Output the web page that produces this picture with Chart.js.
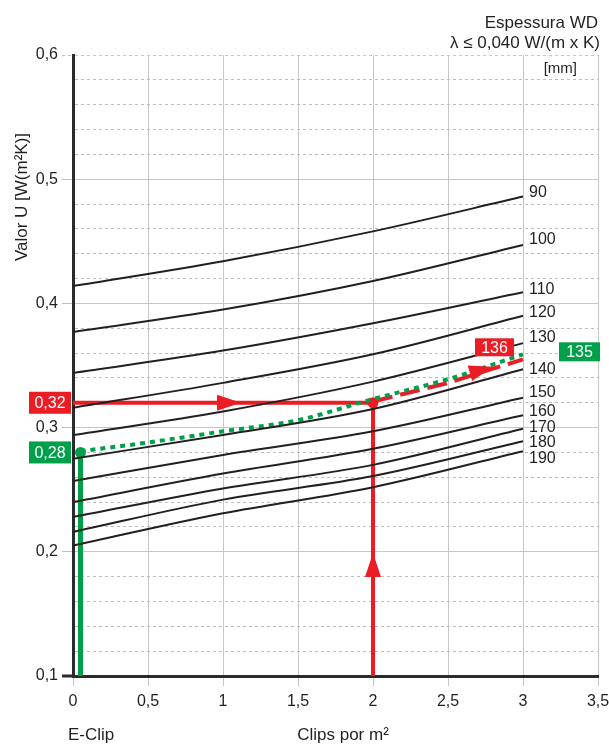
<!DOCTYPE html>
<html>
<head>
<meta charset="utf-8">
<script src="https://cdn.jsdelivr.net/npm/chart.js@4.4.0/dist/chart.umd.min.js"></script>
<style>
    html, body { margin: 0; padding: 0; background: #fff; }
    #grafica { display: block; }
</style>
</head>
<body>
<canvas id="grafica" width="609" height="745"></canvas>
<script>
// Clips por m2 (eixo x) para as curvas de espessura
const clips = [0, 1, 2, 3];
const espessuras = ['90', '100', '110', '120', '130', '140', '150', '160', '170', '180', '190'];

// Valor U [W/(m2K)] por espessura WD
const u90  = [0.414, 0.434, 0.458, 0.486];
const u100 = [0.377, 0.395, 0.418, 0.447];
const u110 = [0.344, 0.362, 0.384, 0.409];
const u120 = [0.316, 0.336, 0.359, 0.390];
const u130 = [0.294, 0.313, 0.337, 0.368];
const u140 = [0.275, 0.294, 0.315, 0.347];
const u150 = [0.257, 0.278, 0.297, 0.324];
const u160 = [0.240, 0.263, 0.283, 0.310];
const u170 = [0.228, 0.251, 0.270, 0.299];
const u180 = [0.216, 0.242, 0.261, 0.289];
const u190 = [0.205, 0.231, 0.252, 0.281];
const curvas = [u90, u100, u110, u120, u130, u140, u150, u160, u170, u180, u190];

// exemplo verde (E-Clip, 135 mm)
const verdeX = [0.05, 0.5, 1, 1.5, 2, 2.5, 3];
const verdeU = [0.281, 0.288, 0.297, 0.306, 0.323, 0.339, 0.359];
const verdeInicio = [0.1, 0.28];

// exemplo vermelho (2 clips/m2, 136 mm)
const vermelhoX = [0, 2, 2];
const vermelhoU = [0.32, 0.32, 0.1];
const tracejadoX = [2, 2.5, 3];
const tracejadoU = [0.321, 0.336, 0.355];

// pontas das setas
const setaX = [1.12, 2, 2.8];
const setaU = [0.32, 0.199, 0.349];

const ticksX = [0, 0.5, 1, 1.5, 2, 2.5, 3, 3.5];
const ticksU = [0.1, 0.2, 0.3, 0.4, 0.5, 0.6];

const VERMELHO = '#ec1c24';
const VERDE = '#00a04a';
const TEXTO = '#231f20';
const FONTE = '"Liberation Sans", Arial, Helvetica, sans-serif';

const virgula = v => String(Math.round(v * 100) / 100).replace('.', ',');
const ehPrincipal = v => Math.abs(v * 10 - Math.round(v * 10)) < 1e-6;

const datasets = curvas.map((u, i) => ({
    label: espessuras[i],
    data: clips.map((x, j) => ({ x: x, y: u[j] })),
    borderColor: '#231f20',
    borderWidth: 2,
    pointRadius: 0,
    cubicInterpolationMode: 'monotone'
}));

datasets.push({
    label: 'verde',
    data: verdeX.map((x, j) => ({ x: x, y: verdeU[j] })),
    borderColor: VERDE,
    borderWidth: 4,
    borderDash: [5, 5],
    pointRadius: 0,
    cubicInterpolationMode: 'monotone'
});
datasets.push({
    label: 'verde-inicio',
    data: verdeInicio.map(u => ({ x: verdeX[0], y: u })),
    borderColor: VERDE,
    backgroundColor: VERDE,
    borderWidth: 5,
    pointRadius: [0, 5.5],
    pointBackgroundColor: VERDE,
    pointBorderWidth: 0
});
datasets.push({
    label: 'vermelho-tracejado',
    data: tracejadoX.map((x, j) => ({ x: x, y: tracejadoU[j] })),
    borderColor: VERMELHO,
    borderWidth: 4,
    borderDash: [20, 8],
    pointRadius: 0
});
datasets.push({
    label: 'vermelho',
    data: vermelhoX.map((x, j) => ({ x: x, y: vermelhoU[j] })),
    borderColor: VERMELHO,
    backgroundColor: VERMELHO,
    borderWidth: 4,
    pointRadius: [0, 5.5, 0],
    pointBackgroundColor: VERMELHO,
    pointBorderWidth: 0
});

function caixa(ctx, texto, x0, y0, w, h, cor) {
    ctx.fillStyle = cor;
    ctx.fillRect(x0, y0, w, h);
    ctx.fillStyle = '#fff';
    ctx.textAlign = 'center';
    ctx.textBaseline = 'middle';
    ctx.fillText(texto, x0 + w / 2, y0 + h / 2 + 1);
}

const anotacoes = {
    id: 'anotacoes',
    afterDatasetsDraw(chart) {
        const ctx = chart.ctx;
        const sx = chart.scales.x;
        const sy = chart.scales.y;
        ctx.save();

        // setas
        const ang0 = Math.atan2(
            sy.getPixelForValue(tracejadoU[2]) - sy.getPixelForValue(tracejadoU[0]),
            sx.getPixelForValue(tracejadoX[2]) - sx.getPixelForValue(tracejadoX[0]));
        const angulos = [0, -Math.PI / 2, ang0];
        setaX.forEach((x, i) => {
            const px = sx.getPixelForValue(x);
            const py = sy.getPixelForValue(setaU[i]);
            ctx.save();
            ctx.translate(px, py);
            ctx.rotate(angulos[i]);
            ctx.beginPath();
            ctx.moveTo(0, 0);
            ctx.lineTo(-24, -8);
            ctx.lineTo(-24, 8);
            ctx.closePath();
            ctx.fillStyle = VERMELHO;
            ctx.fill();
            ctx.restore();
        });

        // eixo x prolonga-se um pouco para a esquerda
        ctx.fillStyle = '#2b2b2b';
        ctx.fillRect(chart.chartArea.left - 11, chart.chartArea.bottom - 1.5, 11, 3);

        // rotulos das curvas
        ctx.font = '16px ' + FONTE;
        ctx.fillStyle = TEXTO;
        ctx.textAlign = 'left';
        ctx.textBaseline = 'middle';
        const desvio = [-4, -5, -3, -3, -6, 0, -5, -4, -1, 1, 7];
        curvas.forEach((u, i) => {
            const py = sy.getPixelForValue(u[u.length - 1]) + desvio[i];
            ctx.fillText(espessuras[i], sx.getPixelForValue(clips[clips.length - 1]) + 6, py);
        });

        // caixas de valores
        ctx.font = '16px ' + FONTE;
        const left = chart.chartArea.left;
        const y32 = sy.getPixelForValue(vermelhoU[0]);
        const y28 = sy.getPixelForValue(verdeInicio[1]);
        caixa(ctx, virgula(vermelhoU[0]), left - 44, y32 - 11, 42, 22, VERMELHO);
        caixa(ctx, virgula(verdeInicio[1]), left - 44, y28 - 11, 42, 22, VERDE);
        const xf = sx.getPixelForValue(tracejadoX[2]);
        caixa(ctx, '136', xf - 48, sy.getPixelForValue(tracejadoU[2]) - 21, 39, 18, VERMELHO);
        caixa(ctx, '135', xf + 36, sy.getPixelForValue(verdeU[verdeU.length - 1]) - 12, 41, 19, VERDE);

        // titulos
        ctx.fillStyle = TEXTO;
        ctx.font = '17px ' + FONTE;
        ctx.textAlign = 'right';
        ctx.textBaseline = 'middle';
        ctx.fillText('Espessura WD', 598, 23);
        ctx.fillText('\u03bb \u2264 0,040 W/(m x K)', 600, 43);
        ctx.font = '15px ' + FONTE;
        ctx.fillText('[mm]', 577, 69);

        ctx.font = '17px ' + FONTE;
        ctx.textAlign = 'left';
        ctx.fillText('E-Clip', 68, 735);
        ctx.textAlign = 'center';
        ctx.fillText('Clips por m\u00b2', 343, 735);

        ctx.translate(22, 197);
        ctx.rotate(-Math.PI / 2);
        ctx.fillText('Valor U [W(m\u00b2K)]', 0, 0);
        ctx.restore();
    }
};

const ctx = document.getElementById('grafica').getContext('2d');
const myChart = new Chart(ctx, {
    type: 'line',
    data: { datasets: datasets },
    options: {
        responsive: false,
        animation: false,
        layout: { padding: { top: 55, right: 0, bottom: 0, left: 0 } },
        plugins: {
            legend: { display: false },
            tooltip: { enabled: false }
        },
        scales: {
            x: {
                type: 'linear',
                min: ticksX[0],
                max: ticksX[ticksX.length - 1],
                afterFit(scale) {
                    scale.height = 69;
                    scale.paddingLeft = 0;
                    scale.paddingRight = 11;
                },
                afterBuildTicks(scale) { scale.ticks = ticksX.map(v => ({ value: v })); },
                ticks: {
                    autoSkip: false,
                    maxRotation: 0,
                    padding: 6,
                    color: TEXTO,
                    font: { family: FONTE, size: 16 },
                    callback: v => virgula(v)
                },
                grid: {
                    color: '#c6c6c6',
                    lineWidth: 1,
                    tickLength: 10,
                    tickColor: '#c6c6c6'
                },
                border: { color: '#2b2b2b', width: 3 }
            },
            y: {
                type: 'linear',
                min: ticksU[0],
                max: ticksU[ticksU.length - 1],
                afterFit(scale) { scale.width = 73; },
                ticks: {
                    stepSize: 0.02,
                    autoSkip: false,
                    padding: 4,
                    color: TEXTO,
                    font: { family: FONTE, size: 16 },
                    callback: v => ehPrincipal(v) ? virgula(v) : ''
                },
                grid: {
                    color: c => ehPrincipal(c.tick.value) ? '#c6c6c6' : '#bdbdbd',
                    lineWidth: 1,
                    tickLength: 11,
                    tickColor: c => ehPrincipal(c.tick.value) ? '#bdbdbd' : 'rgba(0,0,0,0)',
                    tickBorderDash: c => (ehPrincipal(c.tick.value) && c.tick.value < 0.59) ? [] : [3, 3]
                },
                border: {
                    color: '#2b2b2b',
                    width: 3,
                    dash: c => (c.tick && ehPrincipal(c.tick.value) && c.tick.value < 0.59) ? [] : [3, 3]
                }
            }
        }
    },
    plugins: [anotacoes]
});
</script>
</body>
</html>
